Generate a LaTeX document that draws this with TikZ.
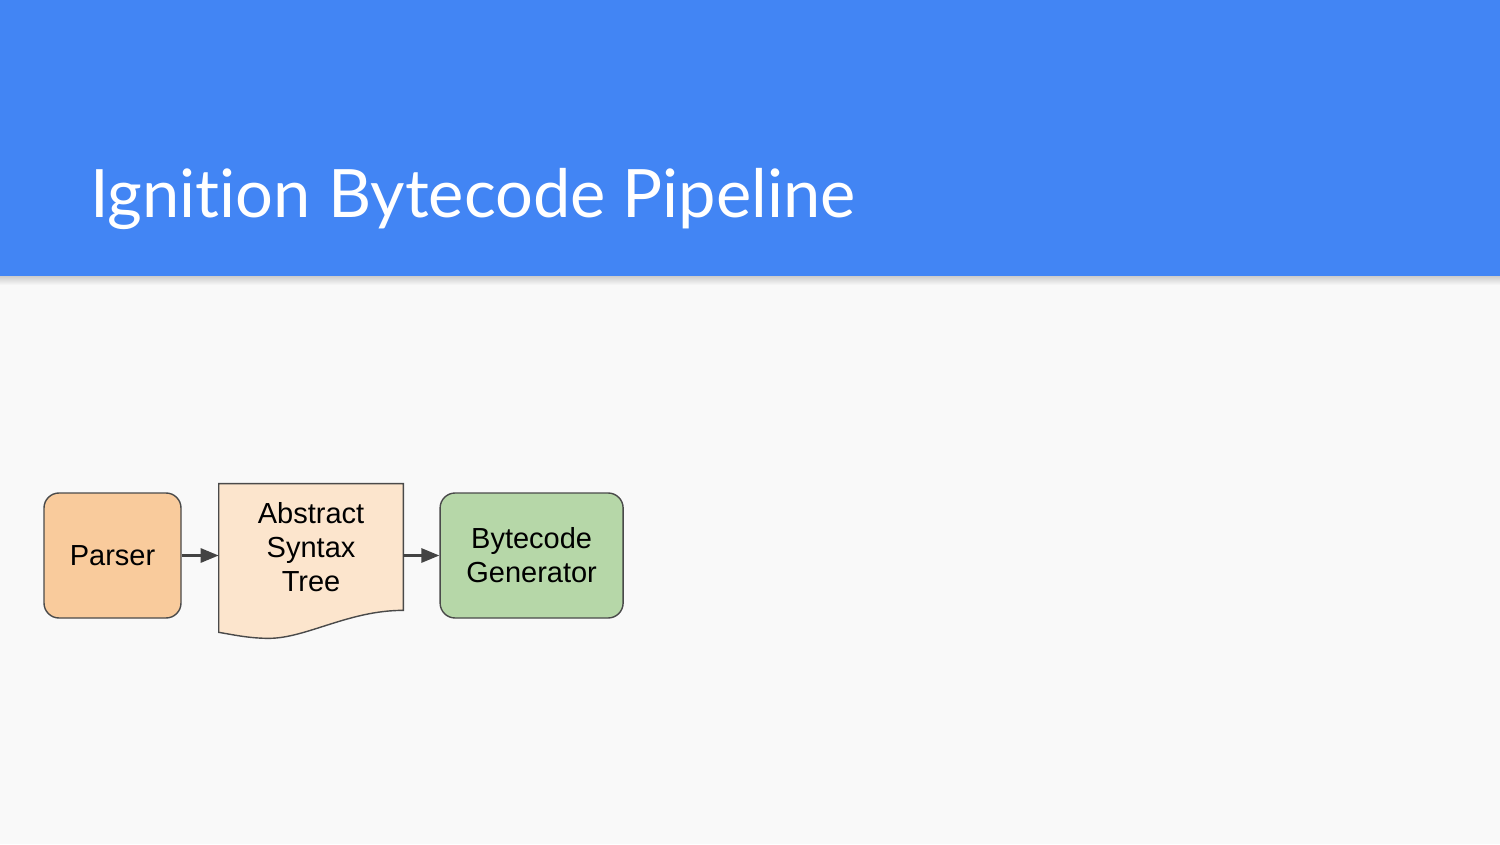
\documentclass[tikz,border=0pt]{standalone}
\usepackage{fontspec}
\setmainfont{Liberation Sans}
\newfontfamily\titlefont[Ligatures=NoCommon]{Lato}
\usepackage{tikz}
\usetikzlibrary{positioning,arrows.meta,calc}
\definecolor{slideblue}{HTML}{4285F4}
\definecolor{slidebg}{HTML}{F9F9F9}
\definecolor{linegray}{HTML}{4A4A4A}
\definecolor{arrowgray}{HTML}{434343}
\definecolor{parserfill}{HTML}{F9CB9C}
\definecolor{astfill}{HTML}{FCE5CD}
\definecolor{genfill}{HTML}{B6D7A8}
\pgfdeclarelayer{back}
\pgfdeclarelayer{shape}
\pgfsetlayers{back,shape,main}

\begin{document}
\begin{tikzpicture}
  [
      box/.style={rectangle, rounded corners=0.3cm, draw=linegray, line width=0.8pt, minimum width=#1, minimum height=2.5cm, align=center, font=\fontsize{16.5}{19.5}\selectfont},
      doc/.style={rectangle, minimum width=3.68cm, minimum height=2.52cm, inner sep=0pt, align=center, font=\fontsize{16.5}{19.5}\selectfont},
      arr/.style={-{Triangle[length=0.36cm, width=0.28cm]}, draw=arrowgray, line width=1.6pt},
    ]
    \useasboundingbox (0,0) rectangle (30,16.88);
    \begin{pgfonlayer}{back}
      \fill [slidebg] (0,0) rectangle (30,16.88);
      \shade [top color=black!22, bottom color=slidebg] (0,11.18) rectangle (30,11.38);
      \fill [slideblue] (0,11.36) rectangle (30,16.88);
    \end{pgfonlayer}
    \node (title) [anchor=base west, inner sep=0pt, text=white, font=\titlefont\fontsize{38}{40}\selectfont] at (1.8,12.52) {Ignition Bytecode Pipeline};

    \node (parser) [box=2.74cm, fill=parserfill] at (2.25,5.77) {Parser};
    \node (ast) [doc, right=0.74cm of parser, yshift=0.17cm] {Abstract\\Syntax\\Tree};
    \node (gen) [box=3.66cm, fill=genfill, right=0.72cm of ast, yshift=-0.17cm] {Bytecode\\Generator};
    \begin{pgfonlayer}{shape}
      \draw [draw=linegray, line width=0.8pt, fill=astfill] (ast.north west) -- (ast.north east) -- (ast.south east)
        .. controls ($(ast.south east)+(-1.1,0)$) and ($(ast.south west)+(1.75,-0.56)$) .. ($(ast.south west)+(1,-0.56)$)
        .. controls ($(ast.south west)+(0.6,-0.56)$) and ($(ast.south west)+(0.25,-0.48)$) .. ($(ast.south west)+(0,-0.44)$) -- cycle;
    \end{pgfonlayer}
    \foreach \i/\j in {parser/ast,ast/gen}
      \draw [arr] (\i.east |- parser) -- (\j.west |- parser);
  \end{tikzpicture}
\end{document}
